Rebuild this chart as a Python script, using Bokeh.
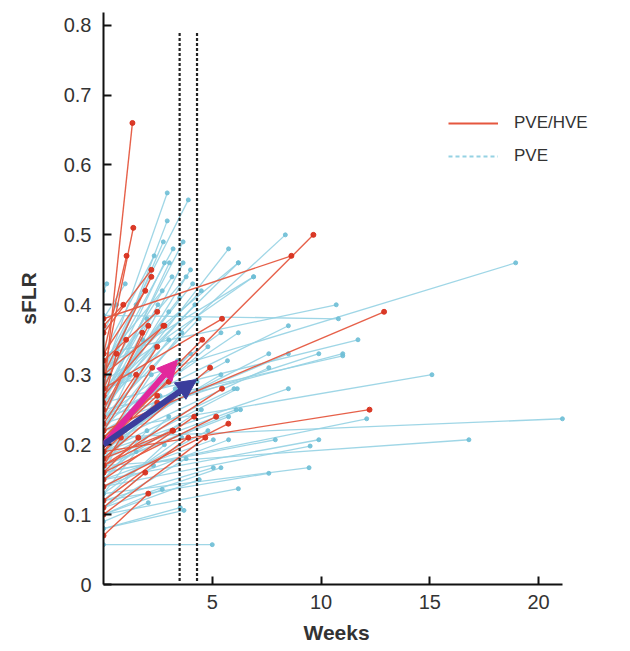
from bokeh.plotting import figure
from bokeh.models import (ColumnDataSource, Legend, LegendItem, Arrow, NormalHead,
                          FixedTicker, Range1d, Title)
from bokeh.embed import file_html
from bokeh.resources import INLINE

# ---- data: PVE/HVE (red) segments: baseline sFLR at week 0 -> follow-up
red_start = [0.27, 0.30, 0.33, 0.36, 0.30, 0.33, 0.37, 0.32, 0.20, 0.38,
             0.28, 0.30, 0.22, 0.19, 0.27, 0.25, 0.28, 0.24, 0.22, 0.21,
             0.18, 0.20, 0.17, 0.15, 0.16, 0.14, 0.19, 0.17, 0.16, 0.18,
             0.12, 0.10, 0.11, 0.07, 0.20, 0.23, 0.26, 0.19, 0.21, 0.17]
red_weeks = [1.33, 1.37, 1.06, 2.20, 2.20, 1.92, 0.91, 2.47, 9.65, 8.64,
             5.45, 2.80, 12.9, 12.23, 2.75, 2.06, 1.04, 1.78, 2.47, 4.54,
             4.90, 2.24, 5.45, 4.17, 5.18, 5.74, 2.47, 3.17, 1.60, 3.20,
             3.90, 4.68, 1.92, 2.06, 2.47, 1.50, 0.60, 1.20, 3.00, 0.80]
red_end = [0.66, 0.51, 0.47, 0.45, 0.44, 0.42, 0.40, 0.39, 0.50, 0.47,
           0.38, 0.37, 0.39, 0.25, 0.37, 0.37, 0.35, 0.36, 0.34, 0.35,
           0.31, 0.31, 0.28, 0.24, 0.24, 0.23, 0.26, 0.22, 0.21, 0.22,
           0.21, 0.21, 0.16, 0.13, 0.27, 0.30, 0.33, 0.24, 0.29, 0.21]

# ---- data: PVE (blue) segments
blue_start = [0.30, 0.31, 0.28, 0.29, 0.27, 0.30, 0.33, 0.25, 0.27, 0.26,
              0.31, 0.28, 0.26, 0.24, 0.29, 0.25, 0.27, 0.32, 0.28, 0.33,
              0.385, 0.24, 0.26, 0.24, 0.23, 0.22, 0.21, 0.20, 0.22, 0.19,
              0.18, 0.17, 0.21, 0.16, 0.15, 0.14, 0.16, 0.17, 0.30, 0.29,
              0.23, 0.13, 0.12, 0.15, 0.14, 0.12, 0.11, 0.10, 0.09, 0.08,
              0.10, 0.057, 0.24, 0.22, 0.20, 0.19, 0.18, 0.17, 0.08, 0.25,
              0.30, 0.27, 0.26, 0.25, 0.27, 0.26, 0.24, 0.22, 0.23, 0.22,
              0.24, 0.22, 0.20, 0.20, 0.21, 0.20, 0.21, 0.18, 0.17, 0.18,
              0.19, 0.16, 0.15, 0.15, 0.16, 0.13, 0.12, 0.13, 0.14, 0.11,
              0.11, 0.10, 0.38, 0.36, 0.30, 0.28, 0.42]
blue_weeks = [2.93, 3.90, 2.93, 2.75, 3.66, 3.20, 2.33, 5.75, 6.20, 8.36,
              6.90, 2.80, 3.03, 3.66, 3.15, 4.00, 4.10, 2.70, 18.95, 10.7,
              10.8, 8.50, 11.7, 11.0, 9.90, 8.50, 7.60, 7.60, 15.1, 8.50,
              6.15, 6.30, 21.1, 12.1, 9.90, 9.50, 7.90, 16.8, 6.20, 6.90,
              6.20, 9.45, 7.60, 5.05, 5.75, 5.05, 5.40, 6.20, 2.06, 3.53,
              2.70, 5.00, 5.40, 5.70, 5.40, 6.00, 6.10, 5.75, 3.70, 11.0,
              1.50, 2.00, 2.50, 3.00, 3.50, 4.20, 1.80, 2.40, 3.00, 3.60,
              4.40, 1.20, 2.20, 2.80, 3.40, 4.00, 4.80, 1.60, 2.60, 3.30,
              4.30, 1.00, 2.00, 3.00, 4.50, 1.50, 2.80, 3.60, 4.80, 2.30,
              3.80, 4.40, 1.00, 0.60, 3.80, 4.50, 0.15]
blue_end = [0.56, 0.55, 0.52, 0.49, 0.49, 0.48, 0.47, 0.48, 0.46, 0.50,
            0.44, 0.46, 0.46, 0.46, 0.44, 0.45, 0.43, 0.42, 0.46, 0.40,
            0.38, 0.37, 0.35, 0.33, 0.33, 0.33, 0.33, 0.31, 0.30, 0.28,
            0.28, 0.25, 0.237, 0.237, 0.207, 0.198, 0.207, 0.207, 0.46, 0.44,
            0.36, 0.167, 0.159, 0.207, 0.207, 0.167, 0.167, 0.137, 0.117, 0.11,
            0.136, 0.057, 0.36, 0.32, 0.30, 0.28, 0.25, 0.24, 0.106, 0.327,
            0.40, 0.38, 0.40, 0.39, 0.41, 0.40, 0.35, 0.34, 0.35, 0.36,
            0.38, 0.30, 0.30, 0.31, 0.32, 0.33, 0.34, 0.26, 0.27, 0.28,
            0.29, 0.22, 0.22, 0.24, 0.25, 0.19, 0.20, 0.21, 0.22, 0.17,
            0.18, 0.15, 0.43, 0.40, 0.44, 0.42, 0.43]

# mean trajectories (arrows): baseline -> follow-up
arrow_start = [0.20, 0.20]
arrow_weeks = [3.40, 4.28]
arrow_end = [0.321, 0.293]

# reference weeks (dashed verticals)
ref_weeks = [3.5, 4.3]
ref_top = 0.79

x_ticks = [5, 10, 15, 20]
y_ticks = [0, 0.1, 0.2, 0.3, 0.4, 0.5, 0.6, 0.7, 0.8]
x_axis_end = 21.1

RED_LINE = "#e5573f"
RED_DOT = "#d8311f"
BLUE_LINE = "#95d2e3"
BLUE_DOT = "#6fbfd6"
FONT = "Liberation Sans"

p = figure(width=630, height=651, output_backend="svg", toolbar_location=None,
           x_range=Range1d(0, 24.0), y_range=Range1d(0, 0.818),
           min_border_left=103, min_border_right=5, min_border_top=12,
           min_border_bottom=0)
p.outline_line_color = None
p.xgrid.visible = False
p.ygrid.visible = False
p.background_fill_color = "white"


def segs(starts, weeks, ends):
    xs = [[0.0, w] for w in weeks]
    ys = [[s, e] for s, e in zip(starts, ends)]
    return ColumnDataSource(dict(xs=xs, ys=ys))


blue_src = segs(blue_start, blue_weeks, blue_end)
red_src = segs(red_start, red_weeks, red_end)

p.multi_line(xs="xs", ys="ys", source=blue_src, line_color=BLUE_LINE,
             line_width=1.3, line_alpha=0.9)
p.scatter(x=[0.0] * len(blue_start) + blue_weeks, y=blue_start + blue_end,
          size=4, color=BLUE_DOT, alpha=0.9)
p.multi_line(xs="xs", ys="ys", source=red_src, line_color=RED_LINE,
             line_width=1.4, line_alpha=0.95)
p.scatter(x=[0.0] * len(red_start) + red_weeks, y=red_start + red_end,
          size=5, color=RED_DOT, alpha=0.95)

# dashed reference lines
p.segment(x0=ref_weeks, y0=[0.005] * len(ref_weeks), x1=ref_weeks,
          y1=[ref_top] * len(ref_weeks), line_color="#222222", line_width=2.2,
          line_dash="3 2")

# arrows
for s, w, e, col in zip(arrow_start, arrow_weeks, arrow_end, ["#e2289c", "#3b3d9c"]):
    p.add_layout(Arrow(end=NormalHead(size=20, fill_color=col, line_color=col),
                       x_start=0.0, y_start=s, x_end=w, y_end=e,
                       line_color=col, line_width=6))

# axes
for ax in (p.xaxis[0], p.yaxis[0]):
    ax.axis_line_color = "#111111"
    ax.axis_line_width = 2
    ax.major_tick_line_color = "#111111"
    ax.major_tick_line_width = 2
    ax.major_tick_in = 8
    ax.major_tick_out = 0
    ax.minor_tick_line_color = None
    ax.major_label_text_font = FONT
    ax.major_label_text_font_size = "20px"
    ax.major_label_text_color = "#333333"
    ax.axis_label_text_font = FONT
    ax.axis_label_text_font_style = "bold"
    ax.axis_label_text_font_size = "21px"
    ax.axis_label_text_color = "#333333"

p.xaxis.bounds = (0, x_axis_end)
p.xaxis.ticker = FixedTicker(ticks=x_ticks)
p.yaxis.ticker = FixedTicker(ticks=y_ticks)
p.yaxis.major_label_overrides = {0: "0"}
p.yaxis.axis_label = "sFLR"
p.xaxis.major_label_standoff = 10
p.yaxis.major_label_standoff = 12
p.yaxis.axis_label_standoff = 21

# x-axis title, centred under the drawn axis (not under the wider frame)
p.add_layout(Title(text="Weeks", align="left", offset=200, text_font=FONT,
                   text_font_size="21px", text_font_style="bold",
                   text_color="#333333", standoff=15), "below")

# legend
nan = float("nan")
r_red = p.line(x=[nan], y=[nan], line_color=RED_LINE, line_width=2)
r_blue = p.line(x=[nan], y=[nan], line_color=BLUE_LINE, line_width=2, line_dash="4 3")
legend = Legend(items=[LegendItem(label="PVE/HVE", renderers=[r_red]),
                       LegendItem(label="PVE", renderers=[r_blue])],
                location=(345, 418), orientation="vertical",
                glyph_width=50, glyph_height=20, label_height=20, spacing=13,
                label_standoff=16, padding=0, margin=0,
                label_text_font=FONT, label_text_font_size="17px",
                label_text_color="#333333",
                background_fill_alpha=0, border_line_alpha=0)
p.add_layout(legend, "center")

open("out.html", "w").write(file_html(p, INLINE))
